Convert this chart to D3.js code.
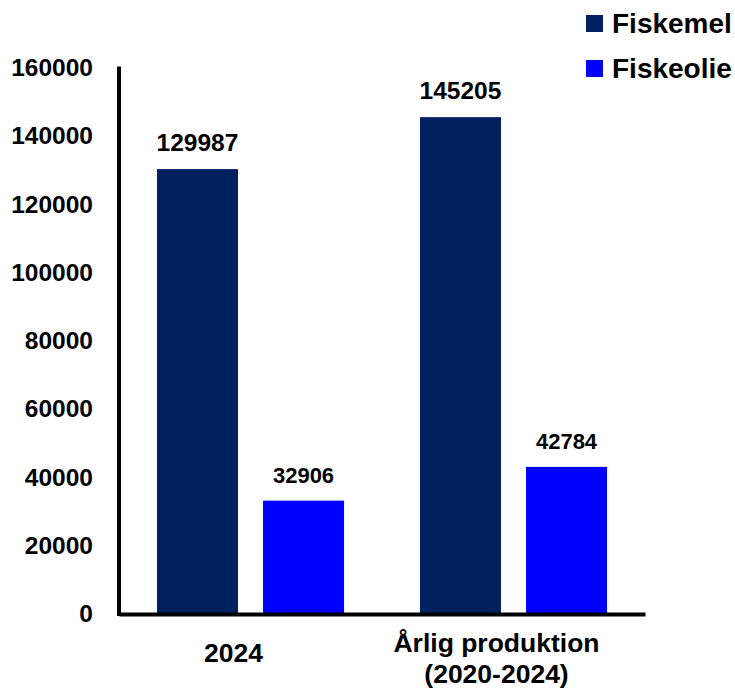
<!DOCTYPE html>
<html>
<head>
<meta charset="utf-8">
<script src="https://cdn.jsdelivr.net/npm/d3@7"></script>
<style>
  body { margin: 0; background: #fff; }
  text { font-family: "Liberation Sans", Arial, sans-serif; font-weight: bold; fill: #000; }
</style>
</head>
<body>
<div id="chart"></div>
<script>
// data
var categories = [["2024"], ["Årlig produktion", "(2020-2024)"]];
var series = ["Fiskemel", "Fiskeolie"];
var fiskemel = [129987, 145205];
var fiskeolie = [32906, 42784];
var yTicks = [0, 20000, 40000, 60000, 80000, 100000, 120000, 140000, 160000];

var colors = { "Fiskemel": "#002060", "Fiskeolie": "#0000ff" };
var labelSize = { "Fiskemel": "24.5px", "Fiskeolie": "22px" };

var width = 735, height = 691;

var svg = d3.select("#chart")
    .append("svg")
    .attr("width", width)
    .attr("height", height);

var x = d3.scaleBand()
    .domain(d3.range(categories.length))
    .range([119, 645])
    .padding(0);

var xInner = d3.scaleBand()
    .domain(series)
    .range([0, x.bandwidth()])
    .paddingInner(0.236)
    .paddingOuter(0.358);

var y = d3.scaleLinear()
    .domain([0, 160000])
    .range([613, 66.6]);

var rows = categories.map(function(c, i) {
    return { i: i, values: [
        { key: "Fiskemel", value: fiskemel[i] },
        { key: "Fiskeolie", value: fiskeolie[i] }
    ] };
});

// bars
var group = svg.append("g")
    .selectAll("g")
    .data(rows)
    .enter().append("g")
    .attr("transform", function(d) { return "translate(" + x(d.i) + ",0)"; });

group.selectAll("rect")
    .data(function(d) { return d.values; })
    .enter().append("rect")
    .attr("x", function(d) { return xInner(d.key); })
    .attr("y", function(d) { return y(d.value); })
    .attr("width", xInner.bandwidth())
    .attr("height", function(d) { return y(0) - y(d.value); })
    .attr("fill", function(d) { return colors[d.key]; });

group.selectAll("text.val")
    .data(function(d) { return d.values; })
    .enter().append("text")
    .attr("class", "val")
    .attr("x", function(d) { return xInner(d.key) + xInner.bandwidth() / 2; })
    .attr("y", function(d) { return y(d.value) - 18; })
    .attr("text-anchor", "middle")
    .attr("font-size", function(d) { return labelSize[d.key]; })
    .text(function(d) { return d.value; });

// y axis
var yAxis = svg.append("g")
    .attr("transform", "translate(119,0)")
    .call(d3.axisLeft(y).tickValues(yTicks).tickSize(0).tickPadding(26).tickFormat(d3.format("d")));
yAxis.select(".domain").attr("stroke", "#000").attr("stroke-width", 4);
yAxis.selectAll(".tick text")
    .attr("font-size", "24.5px")
    .attr("dy", "0.36em")
    .style("font-family", "'Liberation Sans', Arial, sans-serif")
    .style("font-weight", "bold");
yAxis.select(".domain").attr("d", "M0," + (y(0) + 3) + "V" + y(160000));

// x axis
var xAxis = svg.append("g")
    .attr("transform", "translate(0,614)")
    .call(d3.axisBottom(x).tickSize(0).tickSizeOuter(0).tickFormat(""));
xAxis.select(".domain").attr("stroke", "#000").attr("stroke-width", 4);

xAxis.selectAll(".tick").each(function(i) {
    var t = d3.select(this).select("text")
        .attr("y", null).attr("dy", null)
        .attr("font-size", "26.5px")
        .attr("text-anchor", "middle")
        .style("font-family", "'Liberation Sans', Arial, sans-serif")
        .style("font-weight", "bold");
    var lines = categories[i];
    var first = lines.length === 1 ? 48 : 38;
    lines.forEach(function(l, k) {
        t.append("tspan")
            .attr("x", -17)
            .attr("y", first + k * 31)
            .text(l);
    });
});

// legend
var legend = svg.append("g")
    .selectAll("g")
    .data(series)
    .enter().append("g")
    .attr("transform", function(d, i) { return "translate(586," + (15 + i * 45) + ")"; });

legend.append("rect")
    .attr("width", 17)
    .attr("height", 17)
    .attr("fill", function(d) { return colors[d]; });

legend.append("text")
    .attr("x", 26)
    .attr("y", 17.5)
    .attr("font-size", "28px")
    .text(function(d) { return d; });
</script>
</body>
</html>
